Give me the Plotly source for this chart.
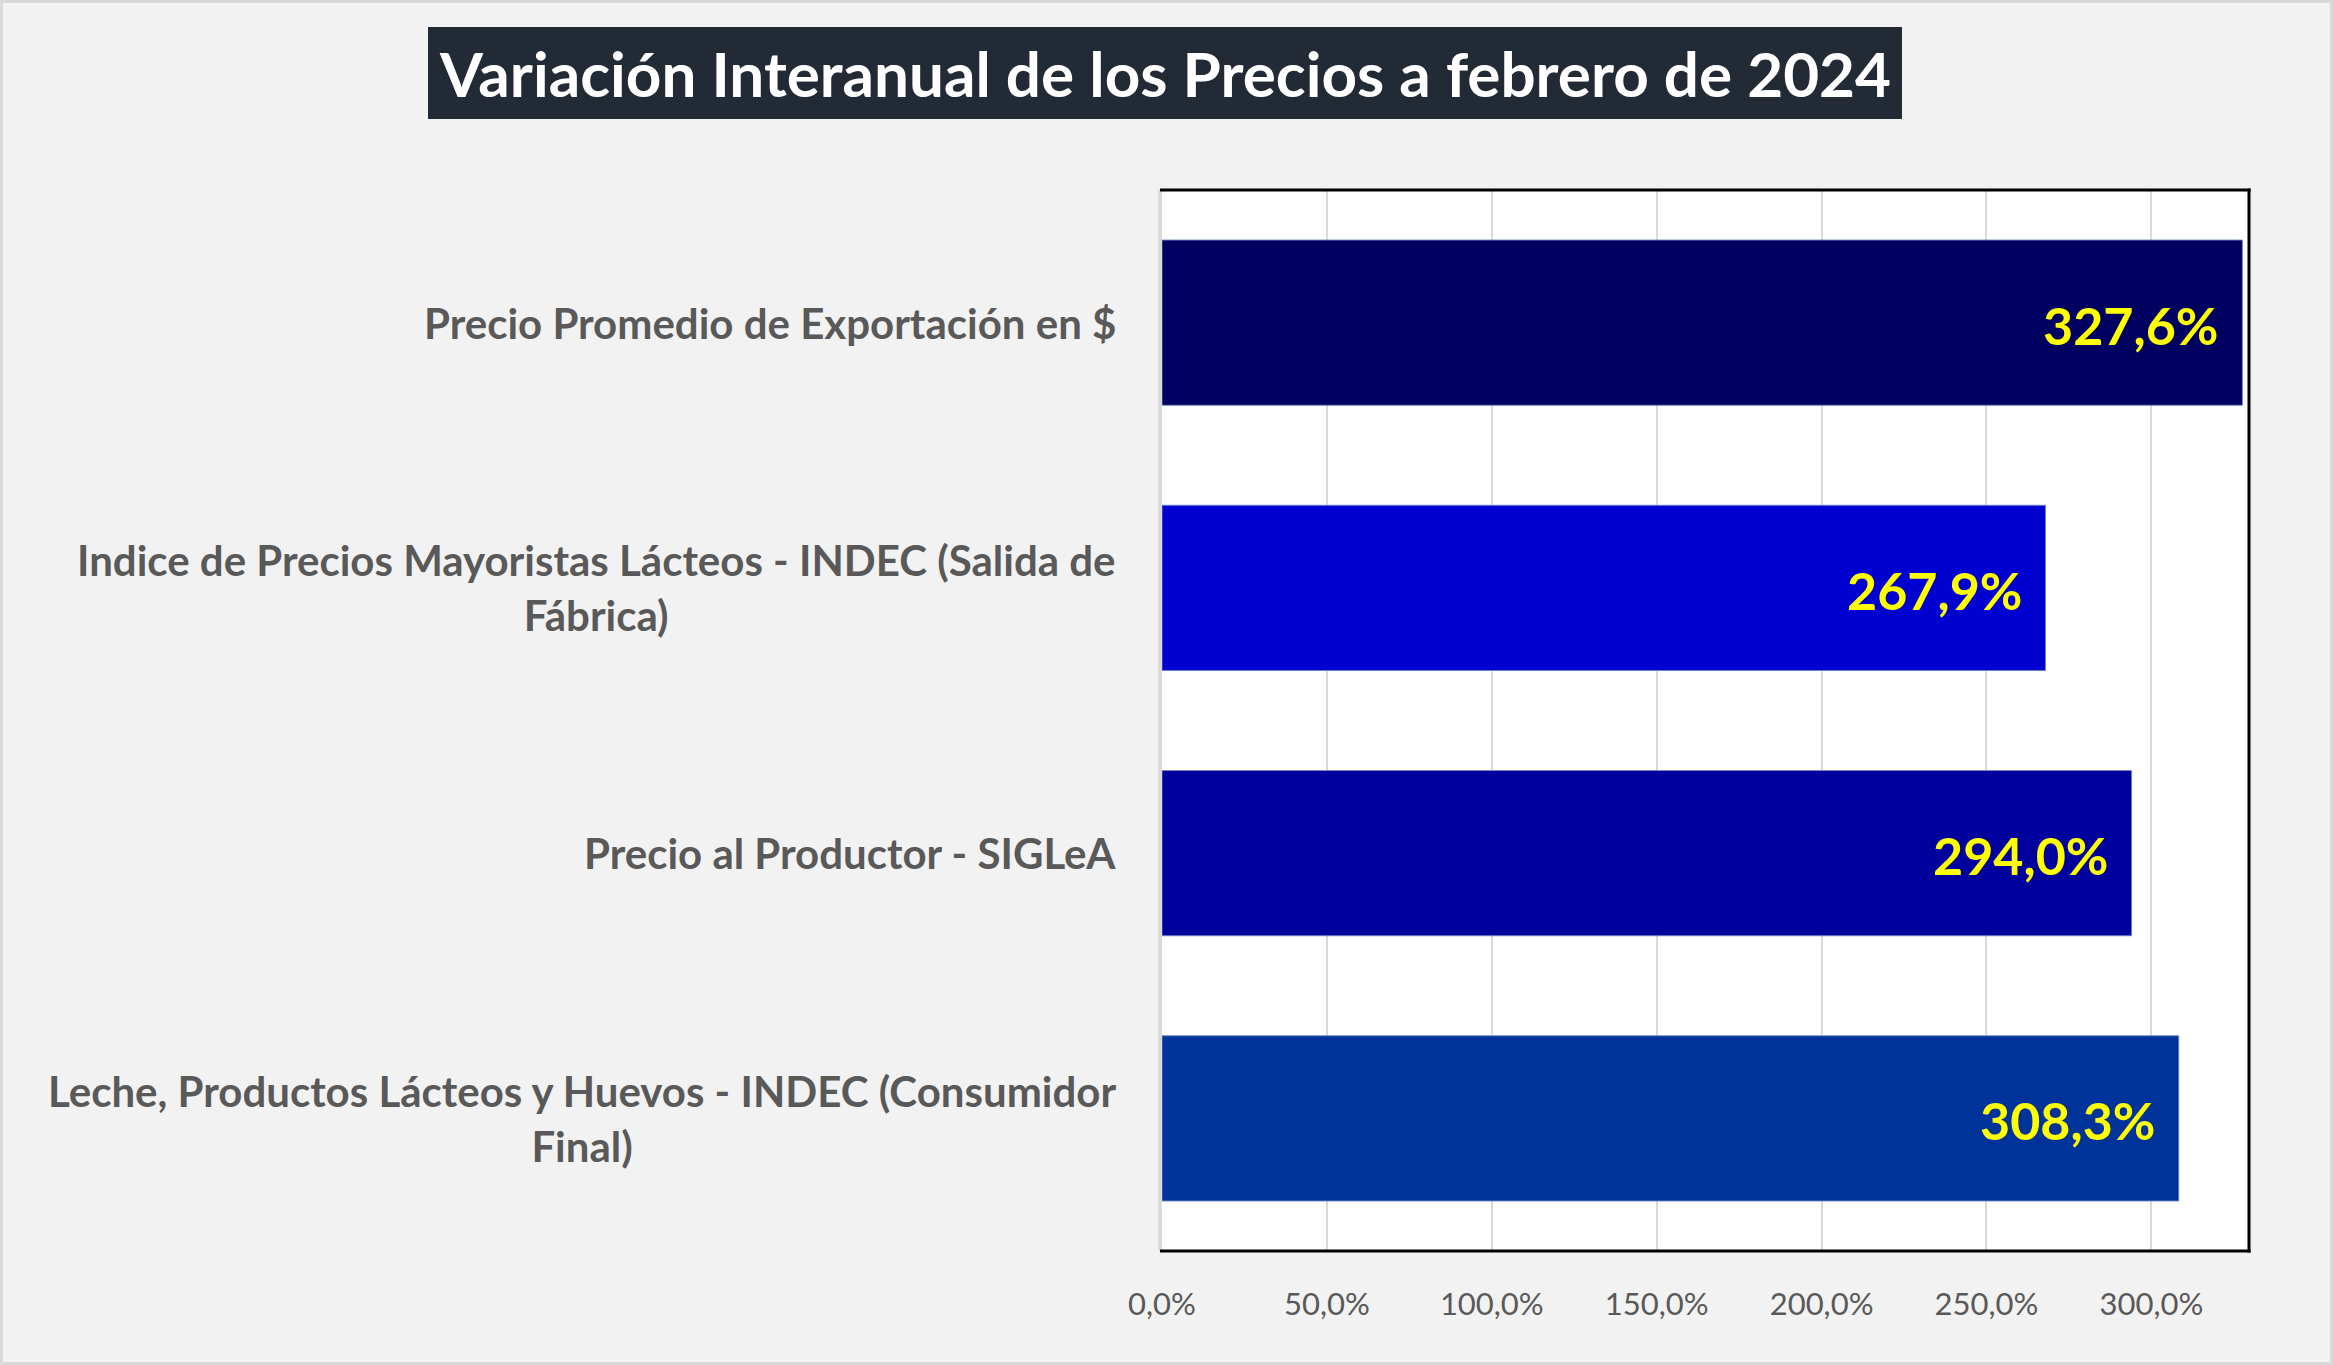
import plotly.graph_objects as go

# ---- data ----
categories = [
    "Precio Promedio de Exportación en $",
    "Indice de Precios Mayoristas Lácteos - INDEC (Salida de Fábrica)",
    "Precio al Productor - SIGLeA",
    "Leche, Productos Lácteos y Huevos - INDEC (Consumidor Final)",
]
category_labels = [
    "Precio Promedio de Exportación en $",
    "Indice de Precios Mayoristas Lácteos - INDEC (Salida de<br>Fábrica)",
    "Precio al Productor - SIGLeA",
    "Leche, Productos Lácteos y Huevos - INDEC (Consumidor<br>Final)",
]
values = [327.6, 267.9, 294.0, 308.3]
bar_colors = ["#000060", "#0000D0", "#00009C", "#003399"]
tick_values = [0, 50, 100, 150, 200, 250, 300]
tick_labels = ["0,0%", "50,0%", "100,0%", "150,0%", "200,0%", "250,0%", "300,0%"]
title_text = "Variación Interanual de los Precios a febrero de 2024"

W, H = 2333, 1365
L, R, T, B = 1162, 84, 190, 114
PW, PH = W - L - R, H - T - B

FONT = "Lato, 'Open Sans', sans-serif"

fig = go.Figure()
fig.add_trace(go.Bar(
    y=categories,
    x=values,
    orientation="h",
    marker=dict(color=bar_colors, line=dict(color="rgba(110,135,200,0.9)", width=1)),
    hoverinfo="skip",
))

annotations = []
for cat, lab in zip(categories, category_labels):
    annotations.append(dict(
        x=0, xref="paper", y=cat, yref="y", text=lab, showarrow=False,
        xanchor="right", yanchor="middle", align="center", xshift=-44,
        font=dict(family=FONT, size=42, color="#595959", weight="bold"),
    ))
for cat, v in zip(categories, values):
    annotations.append(dict(
        x=v, xref="x", y=cat, yref="y",
        text=f"{v:.1f}".replace(".", ",") + "%", showarrow=False,
        xanchor="right", yanchor="middle", xshift=-22, yshift=-2,
        font=dict(family=FONT, size=52, color="#FFFF00", weight="bold"),
    ))
# title
annotations.append(dict(
    x=(1165 - L) / PW, xref="paper", y=(H - B - 73) / PH, yref="paper",
    text=title_text, showarrow=False, xanchor="center", yanchor="middle",
    font=dict(family=FONT, size=62, color="#FFFFFF", weight="bold"),
))

def px_x(p):
    return (p - L) / PW

def px_y(p):
    return (H - B - p) / PH

shapes = [
    # outer border
    dict(type="rect", xref="paper", yref="paper",
         x0=px_x(1.5), x1=px_x(W - 1.5), y0=px_y(H - 1.5), y1=px_y(1.5),
         line=dict(color="#D9D9D9", width=3), layer="below"),
    # title box
    dict(type="rect", xref="paper", yref="paper",
         x0=px_x(428), x1=px_x(1902), y0=px_y(119), y1=px_y(27),
         fillcolor="#222A35", line=dict(width=0), layer="below"),
    # plot border lines
    dict(type="line", xref="paper", yref="paper", x0=px_x(L - 2), x1=px_x(L - 2), y0=0, y1=1,
         line=dict(color="#D9D9D9", width=4)),
    dict(type="line", xref="paper", yref="paper", x0=px_x(L - 2), x1=1.0015, y0=1, y1=1,
         line=dict(color="#000000", width=3)),
    dict(type="line", xref="paper", yref="paper", x0=px_x(L - 2), x1=1.0015, y0=0, y1=0,
         line=dict(color="#000000", width=3)),
    dict(type="line", xref="paper", yref="paper", x0=1, x1=1, y0=-0.0015, y1=1.0015,
         line=dict(color="#000000", width=3)),
]

fig.update_layout(
    width=W, height=H,
    margin=dict(l=L, r=R, t=T, b=B, pad=0),
    paper_bgcolor="#F2F2F2",
    plot_bgcolor="#FFFFFF",
    showlegend=False,
    bargap=0.377,
    annotations=annotations,
    shapes=shapes,
    xaxis=dict(
        range=[0, 329.6], tickvals=tick_values, ticktext=tick_labels,
        showgrid=True, gridcolor="#D9D9D9", gridwidth=2, zeroline=False,
        showline=False, ticks="", ticklabelstandoff=32,
        tickfont=dict(family=FONT, size=31, color="#595959"),
        fixedrange=True,
    ),
    yaxis=dict(
        autorange="reversed", showticklabels=False, showgrid=False,
        zeroline=False, showline=False, ticks="", fixedrange=True,
    ),
)

fig.write_html(
    "out.html",
    config={"displayModeBar": False},
    post_script="document.body.style.margin='0';document.body.style.overflow='hidden';",
)
